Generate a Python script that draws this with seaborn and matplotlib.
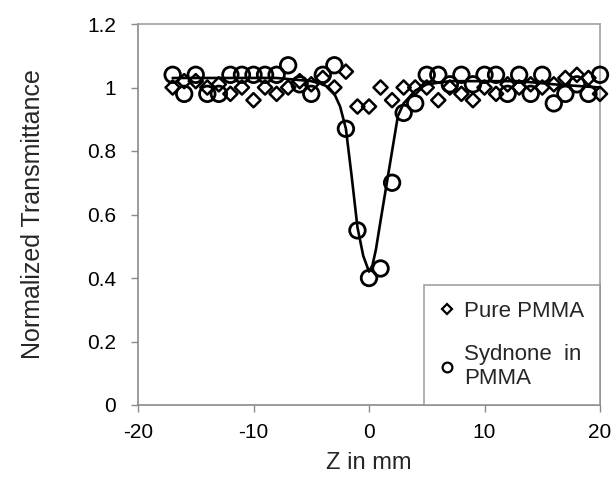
import matplotlib
matplotlib.use("Agg")
import matplotlib.pyplot as plt
from matplotlib.lines import Line2D
import seaborn as sns
import pandas as pd

# Sydnone in PMMA (circles)
syd_z = [-17, -16, -15, -14, -13, -12, -11, -10, -9, -8, -7, -6, -5, -4, -3, -2, -1, 0, 1, 2,
         3, 4, 5, 6, 7, 8, 9, 10, 11, 12, 13, 14, 15, 16, 17, 18, 19, 20]
syd_t = [1.04, 0.98, 1.04, 0.98, 0.98, 1.04, 1.04, 1.04, 1.04, 1.04, 1.07, 1.01, 0.98, 1.04, 1.07, 0.87, 0.55, 0.40, 0.43, 0.70,
         0.92, 0.95, 1.04, 1.04, 1.01, 1.04, 1.01, 1.04, 1.04, 0.98, 1.04, 0.98, 1.04, 0.95, 0.98, 1.01, 0.98, 1.04]

# Pure PMMA (diamonds)
pure_z = [-17, -16, -15, -14, -13, -12, -11, -10, -9, -8, -7, -6, -5, -4, -3, -2, -1, 0, 1, 2,
          3, 4, 5, 6, 7, 8, 9, 10, 11, 12, 13, 14, 15, 16, 17, 18, 19, 20]
pure_t = [1.00, 1.02, 1.02, 1.00, 1.01, 0.98, 1.00, 0.96, 1.00, 0.98, 1.00, 1.02, 1.01, 1.03, 1.00, 1.05, 0.94, 0.94, 1.00, 0.96,
          1.00, 1.00, 1.00, 0.96, 1.00, 0.98, 0.96, 1.00, 0.98, 1.01, 1.00, 1.01, 1.00, 1.01, 1.03, 1.04, 1.03, 0.98]

# Fitted curve
fit_z = [-17, -12, -8, -5, -4, -3.5, -3, -2.5, -2, -1.5, -1, -0.5, 0, 0.3, 0.6, 1, 1.5, 2, 2.5, 3, 3.5, 4, 5, 7, 10, 13, 16, 20]
fit_t = [1.03, 1.03, 1.03, 1.02, 1.01, 1.00, 0.98, 0.94, 0.87, 0.72, 0.56, 0.47, 0.42, 0.44, 0.49, 0.58, 0.69, 0.80, 0.91, 0.95, 0.97, 0.99, 1.01, 1.02, 1.02, 1.02, 1.01, 1.00]

x_ticks = [-20, -10, 0, 10, 20]
y_ticks = [0, 0.2, 0.4, 0.6, 0.8, 1.0, 1.2]
y_tick_labels = ["0", "0.2", "0.4", "0.6", "0.8", "1", "1.2"]

sns.set_theme(style="white")
plt.rcParams['font.family'] = ['Liberation Sans', 'DejaVu Sans']

fig = plt.figure(figsize=(6.16, 4.82), dpi=100)
ax = fig.add_axes([138 / 616, 1 - 405 / 482, (600 - 138) / 616, (405 - 24) / 482])

df_syd = pd.DataFrame({"z": syd_z, "t": syd_t})
df_pure = pd.DataFrame({"z": pure_z, "t": pure_t})
df_fit = pd.DataFrame({"z": fit_z, "t": fit_t})

sns.lineplot(data=df_fit, x="z", y="t", ax=ax, color="black", linewidth=1.9, sort=False, zorder=2)
sns.scatterplot(data=df_pure, x="z", y="t", ax=ax, marker="D", s=52, facecolor="none",
                edgecolor="black", linewidth=1.8, zorder=3, clip_on=False)
sns.scatterplot(data=df_syd, x="z", y="t", ax=ax, marker="o", s=125, facecolor="none",
                edgecolor="black", linewidth=2.0, zorder=4, clip_on=False)

ax.set_xlim(-20, 20)
ax.set_ylim(0, 1.2)
ax.set_xticks(x_ticks)
ax.set_xticklabels([str(v) for v in x_ticks])
ax.set_yticks(y_ticks)
ax.set_yticklabels(y_tick_labels)
ax.tick_params(axis="both", direction="out", length=5, width=1.0, color="#8a8a8a",
               labelsize=15, labelcolor="black", pad=8)
ax.tick_params(axis="y", pad=11)
ax.tick_params(bottom=True, left=True)

for side, sp in ax.spines.items():
    sp.set_visible(True)
    sp.set_color("#8a8a8a" if side in ("left", "bottom") else "#a0a0a0")
    sp.set_linewidth(1.2)

ax.set_xlabel("Z in mm", fontsize=17, labelpad=7)
ax.set_ylabel("Normalized Transmittance", fontsize=18, labelpad=30)

handles = [
    Line2D([], [], marker="D", linestyle="none", markersize=5, markerfacecolor="none",
           markeredgecolor="black", markeredgewidth=1.6),
    Line2D([], [], marker="o", linestyle="none", markersize=7, markerfacecolor="none",
           markeredgecolor="black", markeredgewidth=1.6),
]
leg = ax.legend(handles, ["Pure PMMA", "Sydnone  in\nPMMA"], loc="lower right",
                bbox_to_anchor=(1.0, 0.0), borderaxespad=0, fontsize=16, frameon=True,
                fancybox=False, edgecolor="#8a8a8a", handlelength=0.6, handletextpad=0.5,
                labelspacing=1.0, borderpad=0.7)
leg.get_frame().set_linewidth(1.2)

fig.savefig("out.png", dpi=100, facecolor="white")
